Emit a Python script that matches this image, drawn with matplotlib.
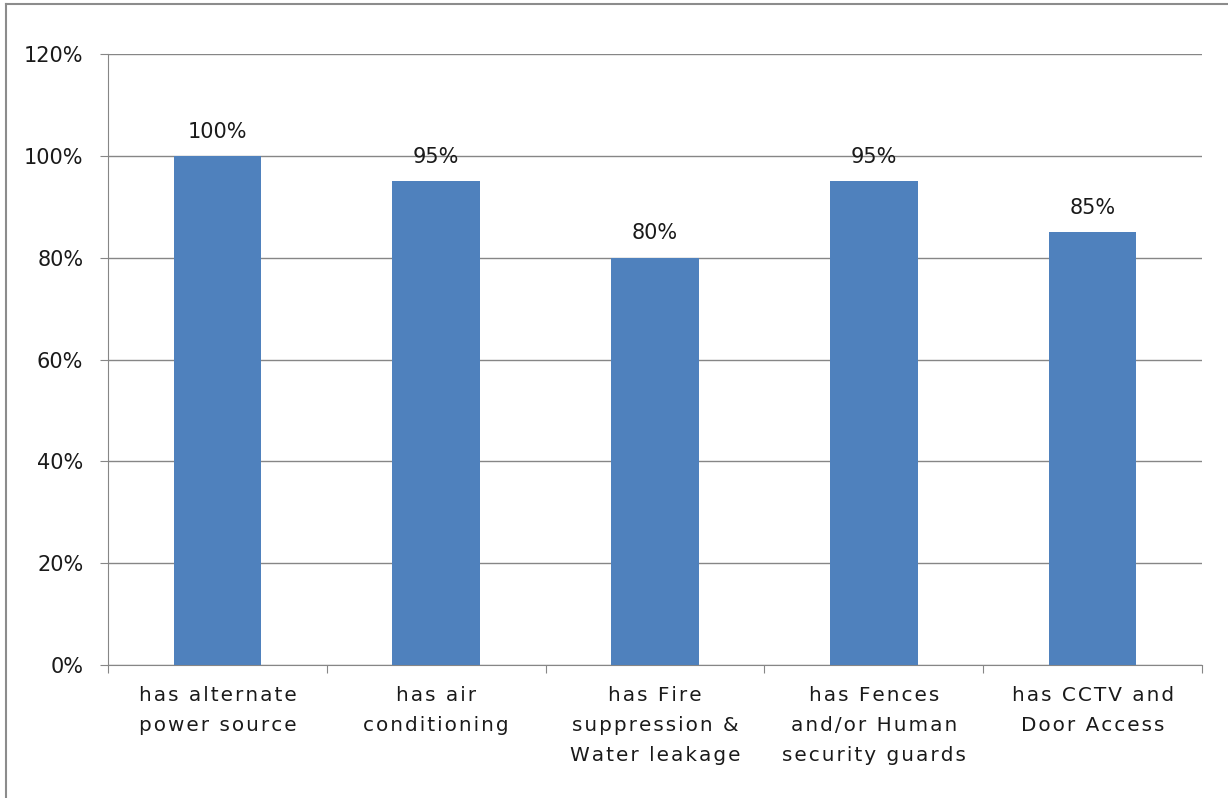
import numpy as np
import matplotlib.pyplot as plt
from matplotlib.lines import Line2D

categories = [
    "has alternate\npower source",
    "has air\nconditioning",
    "has Fire\nsuppression &\nWater leakage",
    "has Fences\nand/or Human\nsecurity guards",
    "has CCTV and\nDoor Access",
]
values = [100, 95, 80, 95, 85]
y_ticks = [0, 20, 40, 60, 80, 100, 120]

grid_color = "#868686"
bar_color = "#4F81BD"
text_color = "#1a1a1a"


def spaced(s):
    # widen the tracking of category labels with hair spaces
    return "\n".join("\u200a".join(line) for line in s.split("\n"))


fig = plt.figure(figsize=(12.28, 7.98), dpi=100)
ax = fig.add_axes([108 / 1228, 1 - 665 / 798, 1094 / 1228, 611 / 798])

x = np.arange(len(categories))
ax.bar(x, values, width=0.4, color=bar_color, zorder=3)

for xi, v in zip(x, values):
    ax.text(xi, v + 2.8, f"{v}%", ha="center", va="bottom", fontsize=15, color=text_color)

ax.set_xlim(-0.5, len(categories) - 0.5)
ax.set_ylim(0, 120)
ax.set_yticks(y_ticks)
ax.set_yticklabels([f"{t}%" for t in y_ticks], fontsize=15, color=text_color)
ax.yaxis.grid(True, color=grid_color, linewidth=1, zorder=0)
ax.tick_params(axis="y", length=5.8, color=grid_color, pad=12)

# category labels centred under bars, tick marks on boundaries
ax.set_xticks(np.arange(len(categories) + 1) - 0.5)
ax.set_xticklabels([])
ax.tick_params(axis="x", length=6, color=grid_color)
for xi, lab in zip(x, categories):
    ax.text(xi, -4.2, spaced(lab), ha="center", va="top", fontsize=14.4, color=text_color,
            linespacing=1.72)

for side in ["top", "right"]:
    ax.spines[side].set_visible(False)
ax.spines["left"].set_color(grid_color)
ax.spines["bottom"].set_color(grid_color)

# outer chart frame
fig.add_artist(Line2D([6 / 1228, 6 / 1228], [0, 1 - 4 / 798], transform=fig.transFigure, color="#8c8c8c", lw=1.5))
fig.add_artist(Line2D([6 / 1228, 1], [1 - 4 / 798, 1 - 4 / 798], transform=fig.transFigure, color="#8c8c8c", lw=1.5))

fig.savefig("out.png", dpi=100)
